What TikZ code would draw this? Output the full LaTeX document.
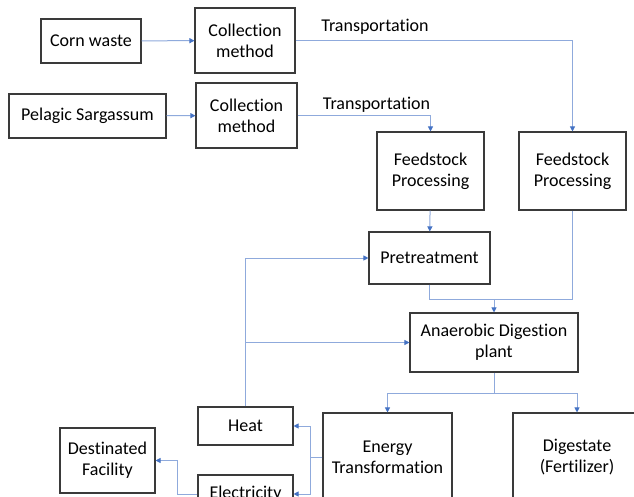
\documentclass[tikz,border=0pt]{standalone}
\usepackage{fontspec}
\setmainfont{Carlito}[Ligatures=NoCommon]
\usepackage{tikz}
\usetikzlibrary{arrows.meta}
\definecolor{flowblue}{HTML}{8FAADC}
\definecolor{tipblue}{HTML}{4472C4}
\definecolor{boxgrey}{HTML}{3A3A3A}

\begin{document}
\begin{tikzpicture}[x=1pt,y=-1pt,
  box/.style={draw=boxgrey,line width=1.1pt,align=center,inner sep=0pt,
    font=\fontsize{18}{21}\selectfont},
  link/.style={draw=flowblue,line width=1pt},
  flow/.style={link,-{Triangle[length=5pt,width=5pt,color=tipblue]}}]
\useasboundingbox (0,0) rectangle (634,497);
\clip (0,0) rectangle (634,497);
\fill[white] (0,0) rectangle (634,497);
% sources
\node[box,minimum width=100pt,minimum height=44pt] (corn) at (91,41) {Corn waste};
\node[box,minimum width=157pt,minimum height=44pt] (sarg) at (87.5,116) {Pelagic Sargassum};
\node[box,minimum width=100pt,minimum height=65pt] (coll1) at (245,40.5) {Collection\\method};
\node[box,minimum width=101pt,minimum height=65pt] (coll2) at (246.5,115.5) {Collection\\method};
% processing
\node[box,minimum width=107pt,minimum height=78pt] (feed1) at (430.5,171) {Feedstock\\Processing};
\node[box,minimum width=107pt,minimum height=78pt] (feed2) at (572.5,171) {Feedstock\\Processing};
\node[box,minimum width=121pt,minimum height=52pt] (pretr) at (429.5,258) {Pretreatment};
\node[box,minimum width=168pt,minimum height=59pt] (adplant) at (494,342.5) {Anaerobic Digestion\\plant};
% products
\node[box,minimum width=129pt,minimum height=88pt] (energy) at (387.5,457) {Energy\\Transformation};
\node[box,minimum width=128pt,minimum height=88pt] (digest) at (577,457) {Digestate\\(Fertilizer)};
\node[box,minimum width=95pt,minimum height=38pt] (heat) at (245.5,426) {Heat};
\node[box,minimum width=95pt,minimum height=38pt] (elec) at (245.5,494) {Electricity};
\node[box,minimum width=95pt,minimum height=65pt] (destfac) at (107.5,460.5) {Destinated\\Facility};
\node[font=\fontsize{18}{21}\selectfont] (trans1) at (375,27) {Transportation};
\node[font=\fontsize{18}{21}\selectfont] (trans2) at (376.5,105) {Transportation};
\coordinate (merge) at (494,299);
\coordinate (split) at (494,393);
\coordinate (ebranch) at (310,457);
\coordinate (ekink) at (177,460.5);
% connectors
\draw[flow] (corn) -- (coll1);
\draw[flow] (sarg) -- (coll2);
\draw[flow] (coll1.east) -| (feed2.north);
\draw[flow] (coll2.east) -| (feed1.north);
\draw[flow] (feed1) -- (pretr);
\draw[link] (pretr.south) |- (merge);
\draw[link] (feed2.south) |- (merge);
\draw[flow] (merge) -- (adplant.north);
\draw[link] (adplant.south) -- (split);
\draw[flow] (split) -| (energy.north);
\draw[flow] (split) -| (digest.north);
\draw[link] (energy.west) -- (ebranch);
\draw[flow] (ebranch) |- (heat.east);
\draw[flow] (ebranch) |- (elec.east);
\draw[flow] (elec.west) -| (ekink) -- (destfac.east);
\draw[flow] (heat.north) |- (pretr.west);
\draw[flow] (heat.north |- adplant.west) -- (adplant.west);
\end{tikzpicture}
\end{document}
